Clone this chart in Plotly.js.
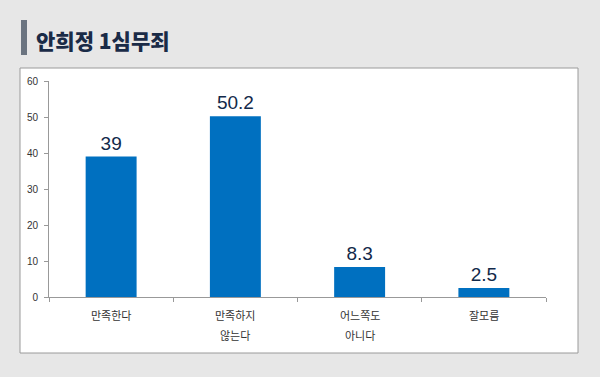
<!DOCTYPE html>
<html>
<head>
<meta charset="utf-8">
<script src="https://cdn.plot.ly/plotly-3.0.1.min.js"></script>
<style>html,body{margin:0;padding:0;background:#e7e7e7;}#chart{width:600px;height:377px;}</style>
</head>
<body>
<div id="chart"></div>
<script>
const categories = ['만족한다', '만족하지 않는다', '어느쪽도 아니다', '잘모름'];
const labelLine1 = ['만족한다', '만족하지', '어느쪽도', '잘모름'];
const labelLine2 = ['', '않는다', '아니다', ''];
const values = [39, 50.2, 8.3, 2.5];
const valueText = ['39', '50.2', '8.3', '2.5'];
const yTicks = [0, 10, 20, 30, 40, 50, 60];
const titleText = '안희정 1심무죄';

const L = 49, R = 546, T = 81, B = 297, W = 600, H = 377;
const px = x => (x - L) / (R - L);
const py = y => (B - y) / (B - T);

const annotations = [{
  text: titleText, xref: 'paper', yref: 'paper',
  x: px(34), y: py(40), xanchor: 'left', yanchor: 'middle', showarrow: false,
  font: {family: 'Noto Sans CJK KR', size: 21, color: '#1a2b47', weight: 900}
}];
categories.forEach((c, i) => {
  annotations.push({text: labelLine1[i], x: c, xref: 'x', yref: 'paper', y: py(315), yanchor: 'middle', showarrow: false,
    font: {family: 'Noto Sans CJK KR', size: 11, color: '#333'}});
  if (labelLine2[i]) annotations.push({text: labelLine2[i], x: c, xref: 'x', yref: 'paper', y: py(335), yanchor: 'middle', showarrow: false,
    font: {family: 'Noto Sans CJK KR', size: 11, color: '#333'}});
});

const trace = {
  type: 'bar', x: categories, y: values, text: valueText, textposition: 'outside',
  texttemplate: '%{text}', cliponaxis: false,
  textfont: {family: 'Liberation Sans, Arial', size: 19, color: '#12294a'},
  marker: {color: '#0070c0'}, width: 0.41, hoverinfo: 'none'
};

const layout = {
  width: W, height: H,
  margin: {l: L, r: W - R, t: T, b: H - B, pad: 0},
  paper_bgcolor: '#e7e7e7', plot_bgcolor: 'rgba(0,0,0,0)',
  showlegend: false,
  xaxis: {type: 'category', showticklabels: false, ticks: 'outside', tickson: 'boundaries', ticklen: 4,
    tickcolor: '#999', showline: true, linecolor: '#999', linewidth: 1, showgrid: false, zeroline: false, fixedrange: true},
  yaxis: {range: [0, 60], tickvals: yTicks, ticks: 'outside', ticklen: 4, tickcolor: '#999', showline: true,
    linecolor: '#999', linewidth: 1, showgrid: false, zeroline: false, ticklabelstandoff: 4,
    tickfont: {family: 'Liberation Sans, Arial', size: 10, color: '#333'}},
  shapes: [
    {type: 'rect', xref: 'paper', yref: 'paper', x0: px(20), x1: px(578), y0: py(353), y1: py(68),
      fillcolor: '#ffffff', line: {color: '#9a9a9a', width: 1}, layer: 'below'},
    {type: 'rect', xref: 'paper', yref: 'paper', x0: px(21), x1: px(27), y0: py(55), y1: py(20),
      fillcolor: '#6b7480', line: {width: 0}, layer: 'below'}
  ],
  annotations: annotations
};

Plotly.newPlot('chart', [trace], layout, {displayModeBar: false, staticPlot: true});
</script>
</body>
</html>
